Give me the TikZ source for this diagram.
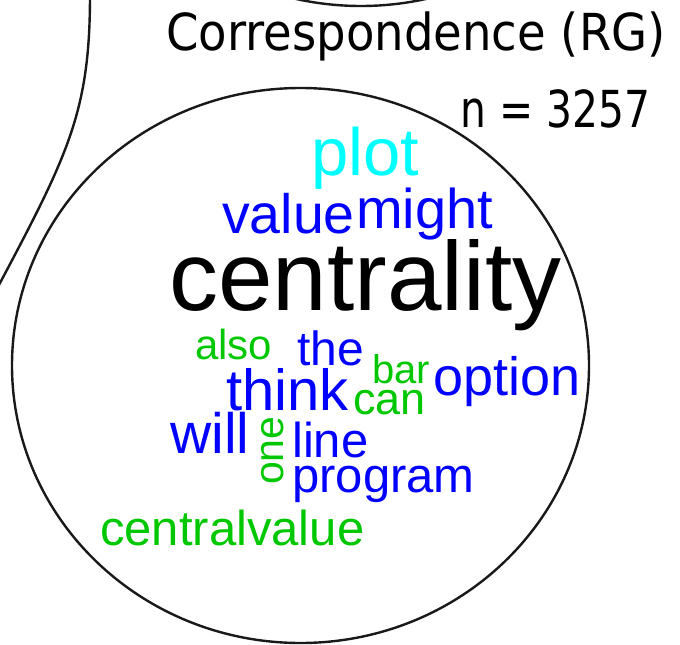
\documentclass[tikz,border=0pt]{standalone}
\usepackage{fontspec}
\usepackage{graphicx}
\newfontfamily\wordfont{Liberation Sans}
\newfontfamily\titlefont{DejaVu Sans}
\definecolor{wblue}{RGB}{0,0,255}
\definecolor{wgreen}{RGB}{0,200,0}
\definecolor{wcyan}{RGB}{0,255,255}
\definecolor{edge}{RGB}{25,25,25}
\tikzset{
  wd/.style={anchor=base west, inner sep=0pt, font=\wordfont\fontsize{#1}{#1}\selectfont},
  ttl/.style={anchor=base west, inner sep=0pt, font=\titlefont\fontsize{51}{51}\selectfont},
  setline/.style={draw=edge, line width=2.4pt}
}
\begin{document}
\begin{tikzpicture}[x=1pt,y=-1pt]
\useasboundingbox (0,0) rectangle (680,645);
\clip (0,0) rectangle (680,645);
% set outlines
\draw[setline] (300.5,365.5) ellipse [x radius=288.5, y radius=277.5];
\draw[setline] (361,-271.5) ellipse [x radius=288.5, y radius=277.5];
\draw[setline] (90,-25) -- (90,-5) .. controls (90,110) and (69,153) .. (0,283) -- (-10,302);
% titles
\node[ttl] (title) at (166,50) {\scalebox{0.913}[1]{Correspondence (RG)}};
\node[ttl] (count) at (460,127) {\scalebox{0.8}[1]{n = 3257}};
% words
\node[wd=67, text=wcyan] (plot) at (311,175) {plot};
\node[wd=55.5, text=wblue] (value) at (222,233) {value};
\node[wd=56, text=wblue] (might) at (356,228) {might};
\node[wd=98, text=black] (centrality) at (169,310) {centrality};
\node[wd=42, text=wgreen] (also) at (195,359) {also};
\node[wd=48, text=wblue] (the) at (297,365) {the};
\node[wd=40, text=wgreen] (bar) at (372,383) {bar};
\node[wd=54, text=wblue] (option) at (433,395) {option};
\node[wd=58, text=wblue] (think) at (226,410) {think};
\node[wd=45, text=wgreen] (can) at (353,414) {can};
\node[wd=57, text=wblue] (will) at (170,453) {will};
\node[wd=41, text=wgreen, rotate=90] (one) at (283,485) {one};
\node[wd=49, text=wblue] (line) at (292,457) {line};
\node[wd=49, text=wblue] (program) at (292,492) {program};
\node[wd=49, text=wgreen] (centralvalue) at (100,545) {centralvalue};
\end{tikzpicture}
\end{document}
